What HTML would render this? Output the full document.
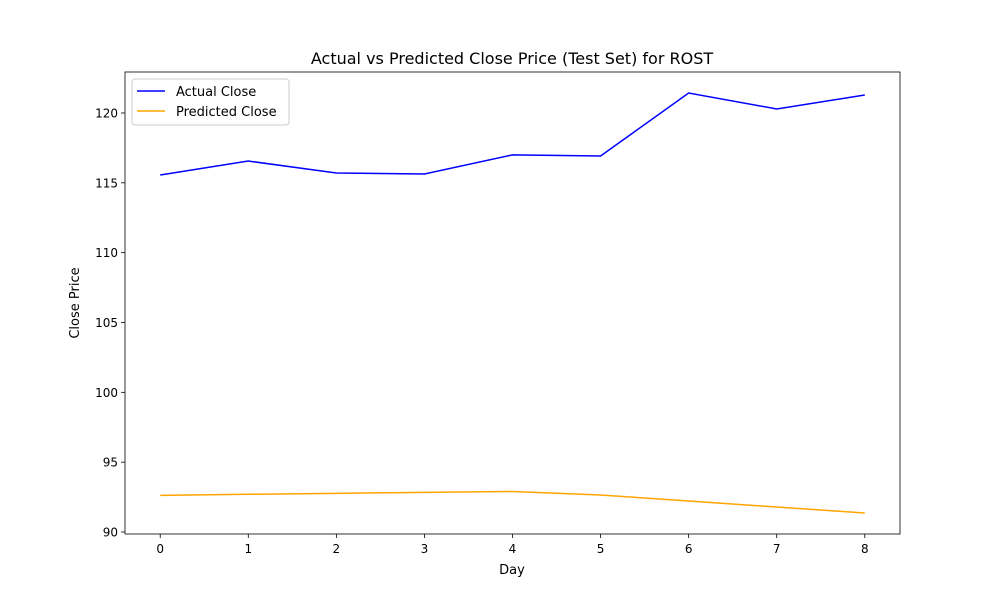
<!DOCTYPE html>
<html><head><meta charset="utf-8"><style>
body{margin:0;background:#fff;}
svg{display:block;font-family:"DejaVu Sans","Liberation Sans",sans-serif;}
</style></head><body>
<svg id="chart" width="1000" height="600"></svg>
<script>
const days=[0,1,2,3,4,5,6,7,8];
const actualClose=[115.56,116.56,115.70,115.63,117.0,116.92,121.43,120.29,121.29];
const predictedClose=[92.62,92.7,92.77,92.84,92.9,92.65,92.22,91.79,91.36];
const yTicks=[90,95,100,105,110,115,120];
const xTicks=[0,1,2,3,4,5,6,7,8];
const L=125,R=900,T=72,B=534;
const xMin=-0.4,xMax=8.4,yMin=89.857,yMax=122.935;
const sx=v=>L+(v-xMin)/(xMax-xMin)*(R-L);
const sy=v=>B-(v-yMin)/(yMax-yMin)*(B-T);
const svg=document.getElementById('chart');
const NS='http://www.w3.org/2000/svg';
function el(t,a,txt){const e=document.createElementNS(NS,t);for(const k in a)e.setAttribute(k,a[k]);if(txt!==undefined)e.textContent=txt;svg.appendChild(e);return e;}
let e;
e=el('text',{x:512,y:64,'text-anchor':'middle','font-size':16},'Actual vs Predicted Close Price (Test Set) for ROST');


xTicks.forEach(v=>{
 e=el('line',{x1:sx(v),x2:sx(v),y1:B,y2:B+4,stroke:'#000','stroke-width':0.8});
 
 
 e=el('text',{x:sx(v),y:B+19,'text-anchor':'middle','font-size':12},v);
 
 
});
yTicks.forEach(v=>{
 e=el('line',{x1:L-4,x2:L,y1:sy(v),y2:sy(v),stroke:'#000','stroke-width':0.8});
 
 
 e=el('text',{x:L-7,y:sy(v)+4.5,'text-anchor':'end','font-size':12},v);
 
 
});
e=el('text',{x:512,y:574,'text-anchor':'middle','font-size':13},'Day');


e=el('text',{x:79,y:303,'text-anchor':'middle','font-size':13,transform:'rotate(-90 79 303)'},'Close Price');


function line(vals,color,name){
 const pts=vals.map((v,i)=>sx(days[i])+','+sy(v)).join(' ');
 const p=el('polyline',{points:pts,fill:'none',stroke:color,'stroke-width':1.5});
 
 
}
line(actualClose,'#0000ff','actual-close-line');
line(predictedClose,'#ffa500','predicted-close-line');
e=el('rect',{x:L,y:T,width:R-L,height:B-T,fill:'none',stroke:'#000','stroke-width':0.8});


e=el('rect',{x:132,y:79,width:157,height:46,rx:3,fill:'#fff',stroke:'#ccc','stroke-width':1});


e=el('line',{x1:137,x2:165,y1:91,y2:91,stroke:'#0000ff','stroke-width':1.5});


e=el('text',{x:176,y:96,'font-size':13},'Actual Close');


e=el('line',{x1:137,x2:165,y1:111,y2:111,stroke:'#ffa500','stroke-width':1.5});


e=el('text',{x:176,y:116,'font-size':13},'Predicted Close');


</script>
</body></html>
